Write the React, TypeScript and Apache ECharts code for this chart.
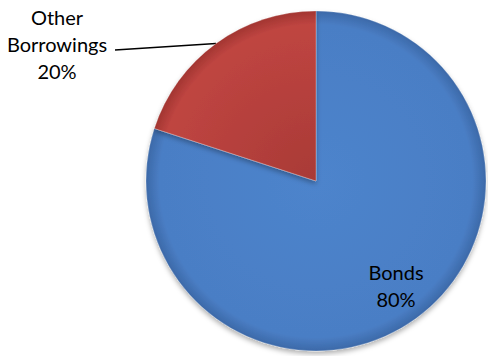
import React, { useEffect, useRef } from "react";
import * as echarts from "echarts";

const categories = ["Bonds", "Other Borrowings"];
const shares = [80, 20];
const sliceColors = [
  ["#4d84cc", "#4a7ec5", "#3c69a8"],
  ["#a93a36", "#bf4541", "#a23531"],
];

const CX = 316;
const CY = 181;
const R = 170;

export default function App() {
  const ref = useRef<HTMLDivElement>(null);

  useEffect(() => {
    if (!ref.current) return;
    const chart = echarts.init(ref.current, null, { renderer: "svg" });

    const data = categories.map((name, i) => ({
      name,
      value: shares[i],
      label: i === 0 ? { position: "inside" } : { position: "outside" },
      labelLine: { show: i !== 0 },
      itemStyle: {
        color: {
          type: "radial",
          x: CX,
          y: CY,
          r: R,
          global: true,
          colorStops: [
            { offset: 0, color: sliceColors[i][0] },
            { offset: 0.92, color: sliceColors[i][1] },
            { offset: 1, color: sliceColors[i][2] },
          ],
        },
      },
    }));

    chart.setOption({
      animation: false,
      series: [
        {
          type: "pie",
          center: [CX, CY],
          radius: [0, R],
          startAngle: 90,
          clockwise: true,
          data,
          itemStyle: {
            borderColor: "rgba(255,255,255,0.25)",
            borderWidth: 1,
            shadowBlur: 5,
            shadowOffsetY: 3,
            shadowColor: "rgba(0,0,0,0.3)",
          },
          label: {
            show: true,
            formatter: (p: any) =>
              (p.name === "Other Borrowings" ? "Other\nBorrowings" : p.name) +
              "\n" +
              p.percent.toFixed(0) +
              "%",
            fontFamily: "Lato",
            fontSize: 20,
            lineHeight: 27,
            color: "#000",
            align: "center",
            overflow: "none",
          },
          labelLine: {
            show: true,
            lineStyle: { color: "#000", width: 1.5 },
          },
          labelLayout: (p: any) => {
            if (p.dataIndex === 0) {
              return { x: 396, y: 285, align: "center", verticalAlign: "middle" };
            }
            const mid = ((90 + 36) * Math.PI) / 180;
            const ex = CX + R * Math.cos(mid);
            const ey = CY - R * Math.sin(mid);
            return {
              x: 57,
              y: 44,
              align: "center",
              verticalAlign: "middle",
              labelLinePoints: [
                [ex, ey],
                [(ex + 115) / 2, (ey + 50) / 2],
                [115, 50],
              ],
            };
          },
        },
      ],
    });

    return () => chart.dispose();
  }, []);

  return (
    <div
      ref={ref}
      style={{ position: "absolute", left: 0, top: 0, width: 488, height: 356 }}
    />
  );
}
